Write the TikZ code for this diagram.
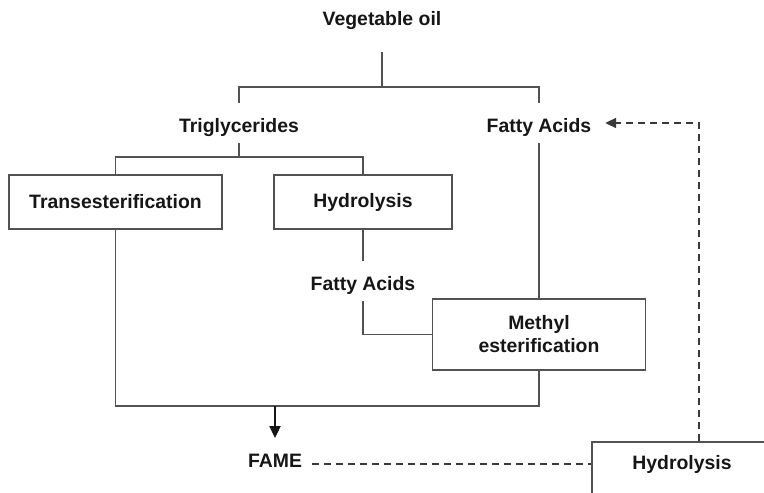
\documentclass[tikz,border=0pt]{standalone}
\usepackage{fontspec}
\setmainfont{Liberation Sans}
\usepackage{tikz}
\usetikzlibrary{arrows.meta}

\definecolor{linegray}{HTML}{525252}
\definecolor{textgray}{HTML}{161616}

\begin{document}
\begin{tikzpicture}[x=1pt,y=-1pt,
    line width=1.8pt, draw=linegray,
    every node/.style={font=\fontsize{19.4}{23}\selectfont\bfseries, text=textgray},
    lbl/.style={inner xsep=9pt, inner ysep=0pt, text height=28pt, text depth=10pt, anchor=base},
    proc/.style={draw=linegray, line width=1.8pt, align=center, minimum height=54pt},
    dashline/.style={dashed, dash pattern=on 7pt off 5pt, draw=textgray!85}]
    \useasboundingbox (0,0) rectangle (764,493);
    \clip (0,0) rectangle (764,493);

    % products and feed
    \node[lbl] (veg) at (382,25) {Vegetable oil};
    \node[lbl] (tri) at (239,132) {Triglycerides};
    \node[lbl] (fa1) at (539,132) {Fatty Acids};
    \node[lbl] (fa2) at (363,290) {Fatty Acids};
    \node[lbl] (fame) at (275,467) {FAME};

    % process steps
    \node[proc, minimum width=213pt] (trans) at (115.5,202) {Transesterification};
    \node[proc, minimum width=178pt] (hyd) at (363,202) {Hydrolysis};
    \node[proc, minimum width=213pt, minimum height=71pt] (meth) at (539,334.5) {Methyl\\esterification};
    \node[proc, anchor=base, minimum width=180pt, minimum height=0pt,
          inner ysep=0pt, text height=27pt, text depth=60pt] (hyd2) at (682,469) {Hydrolysis};

    \coordinate (split) at (382,87);
    \coordinate (split2) at (239,157);
    \coordinate (join) at (275,406);

    \draw[shorten <=16pt] (veg.south) -- (split);
    \draw (tri.north) |- (fa1.north |- split) -- (fa1.north);
    \draw (tri.south) -- (split2);
    \draw (trans.north) |- (hyd.north |- split2) -- (hyd.north);
    \draw (hyd.south) -- (fa2.north);
    \draw (fa2.south) |- (meth.west);
    \draw (fa1.south) -- (meth.north);
    \draw (trans.south) |- (meth.south |- join) -- (meth.south);
    \draw[draw=textgray, -{Triangle[length=12pt,width=11pt]}] (join) -- (fame.north);

    % recycle loop
    \draw[dashline] (fame.mid east) -- (fame.mid east -| hyd2.west);
    \draw[dashline, -{Triangle[length=11pt,width=10pt]}] ([xshift=17pt]hyd2.north) |- ([xshift=4pt]fa1.east);
\end{tikzpicture}
\end{document}
